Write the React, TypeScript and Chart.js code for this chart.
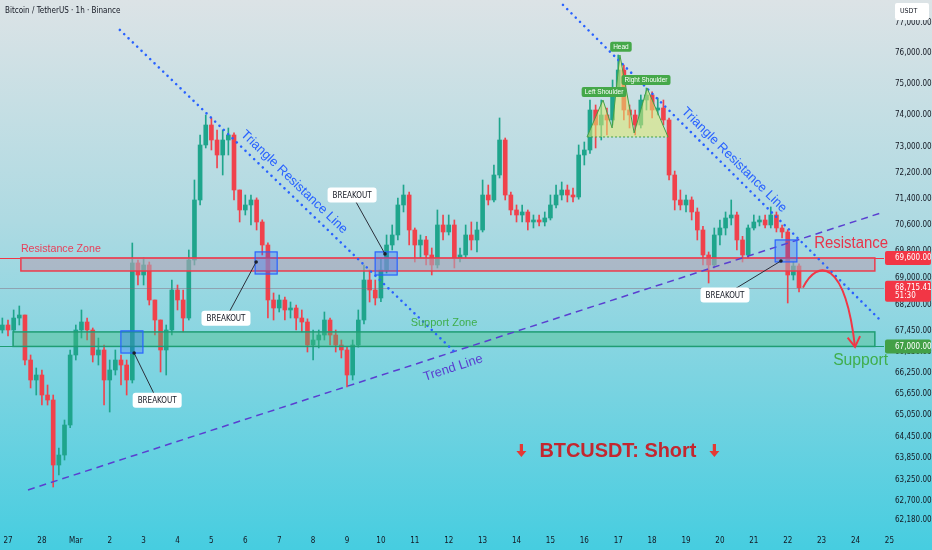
import React, { useEffect, useRef } from "react";
import { Chart, registerables } from "chart.js";

Chart.register(...registerables);

// ---------------- data (4h candles) ----------------
const firstOpen = 67476;
const closes = [
  67621, 67476, 67824, 67912, 66610, 66040, 66182, 65615, 65474, 63669,
  63943, 64774, 66754, 67476, 67708, 67476, 66754, 66898, 66040, 66325,
  66610, 66467, 66040, 69449, 69091, 69389, 68352, 67766, 66898, 67476,
  68646, 68352, 67824, 69538, 71356, 73064, 73695, 73221, 72750, 73221,
  73379, 71663, 71050, 71203, 71356, 70684, 69988, 68352, 68117, 68352,
  68059, 68117, 67824, 67708, 67042, 67186, 67330, 67766, 67330, 67042,
  66898, 66182, 67042, 67766, 68942, 68646, 68411, 69240, 69988, 70290,
  71203, 71509, 70441, 69988, 70139, 69688, 69389, 70593, 70381, 70593,
  69598, 69688, 70290, 70139, 70441, 71509, 71356, 72127, 73221, 71509,
  71050, 70897, 70989, 70684, 70745, 70684, 70806, 71203, 71509, 71663,
  71509, 71448, 72750, 72907, 74172, 73695, 74013, 73854, 74812, 75459,
  74172, 74013, 73695, 74491, 74652, 74172, 74236, 73854, 72127, 71356,
  71203, 71356, 70989, 70441, 69688, 69389, 70290, 70502, 70806, 70897,
  70139, 69688, 70502, 70684, 70745, 70593, 70897, 70502, 70381, 69091,
  69359, 68715.41,
];
const highs = [
  67824, 67766, 68059, 68176, 67912, 66754, 66382, 66325, 65898, 65615,
  64136, 64913, 66898, 67621, 68059, 67824, 67534, 67243, 67042, 66610,
  66898, 66754, 66610, 70048, 69538, 69598, 69478, 68352, 67766, 67621,
  68942, 68794, 68646, 69838, 71972, 73379, 74013, 73918, 73537, 73537,
  73600, 73450, 71663, 71509, 71509, 71420, 70750, 70050, 68558, 68499,
  68440, 68293, 68205, 68059, 67800, 67476, 67476, 68000, 67824, 67476,
  67186, 67000, 67186, 68059, 69389, 69240, 68942, 69598, 70290, 70593,
  71417, 71817, 71600, 70502, 70290, 70250, 69898, 71050, 70897, 70897,
  70745, 69898, 70593, 70684, 70684, 71972, 71817, 72438, 73918, 73284,
  71600, 71203, 71203, 71050, 70897, 70897, 70989, 71509, 71817, 71910,
  71817, 71725, 73064, 73158, 74491, 74332, 74491, 74236, 75135, 75947,
  75622, 74332, 74172, 74652, 74876, 74750, 74555, 74491, 73918, 72250,
  71663, 71509, 71450, 71111, 70550, 69778, 70502, 70745, 70989, 71356,
  70989, 70250, 70593, 70897, 70867, 70897, 71142, 70989, 70593, 70450,
  69478, 69420,
];
const lows = [
  67388, 67301, 67418, 67621, 66467, 65814, 65615, 65333, 65333, 63069,
  63395, 63806, 64700, 66610, 67243, 67186, 66553, 66467, 65333, 65137,
  66182, 65898, 65615, 65955, 68794, 68794, 68205, 67330, 66268, 66182,
  67330, 68059, 67418, 67766, 69389, 71203, 72970, 72907, 72344, 72127,
  72750, 71356, 70684, 70897, 70593, 70441, 69688, 67824, 67766, 68000,
  67766, 67824, 67476, 67418, 66840, 66610, 66956, 67186, 67042, 66840,
  66668, 65841, 66040, 66980, 67650, 68293, 68205, 68300, 69150, 69838,
  70139, 70989, 69988, 69478, 69598, 69389, 69091, 69300, 70139, 70290,
  69300, 69478, 69598, 69838, 69778, 70381, 71203, 71295, 72034, 71356,
  70897, 70684, 70684, 70441, 70502, 70563, 70563, 70745, 71111, 71356,
  71295, 71295, 71380, 72438, 72800, 72970, 73221, 73379, 73695, 74652,
  73854, 73600, 73379, 73600, 74172, 73918, 74013, 73695, 71972, 71050,
  71050, 70989, 70745, 70139, 69389, 68853, 69300, 69988, 70290, 70593,
  69838, 69478, 69598, 70441, 70563, 70502, 70502, 70381, 70200, 68264,
  68942, 68587,
];
// time in days from 27 Feb 00:00; one candle every 4 hours
const firstCandleDay = -1 / 6;
const candleStepDays = 1 / 6;

const dayLabels = [
  "27", "28", "Mar", "2", "3", "4", "5", "6", "7", "8", "9", "10", "11", "12",
  "13", "14", "15", "16", "17", "18", "19", "20", "21", "22", "23", "24", "25",
];
const priceTicks = [
  77000, 76000, 75000, 74000, 73000, 72200, 71400, 70600, 69800, 69000, 68200,
  67450, 66850, 66250, 65650, 65050, 64450, 63850, 63250, 62700, 62180,
];
const resistanceLevel = 69600;
const supportLevel = 67000;
const lastPrice = 68715.41;
const lastPriceTimer = "51:30";

// ---------------- drawings (in day / price coordinates) ----------------
const resistanceZone = { d0: 0.38, d1: 25.57, top: 69600, bottom: 69210 };
const supportZone = { d0: 0.15, d1: 25.57, top: 67420, bottom: 67000 };
const trendLine = [[0.59, 62990], [25.84, 70990]];
const triangleLine1 = [[3.3, 76770], [13.24, 66780]];
const triangleLine2 = [[16.37, 77600], [25.72, 67770]];
const breakouts = [
  { box: [3.33, 3.98, 67450, 66810], pt: [3.72, 66810], label: [4.4, 65470] },
  { box: [7.29, 7.94, 69780, 69120], pt: [7.32, 69480], label: [6.43, 67820] },
  { box: [10.83, 11.48, 69780, 69090], pt: [11.12, 69720], label: [10.15, 71510] },
  { box: [22.63, 23.27, 70140, 69480], pt: [22.8, 69510], label: [21.15, 68500] },
];
const hsPoints = [
  [17.08, 73316], [17.55, 74491], [17.82, 73600], [18.05, 75947],
  [18.47, 73442], [18.85, 74876], [19.47, 73316],
];
const hsLabels: [string, number, number][] = [
  ["Left Shoulder", 17.58, 74748],
  ["Head", 18.08, 76214],
  ["Right Shoulder", 18.82, 75135],
];
const projection = [[23.45, 68715], [23.89, 69598], [24.69, 69538], [24.985, 66985]];

const UP = "#1fa58c";
const DOWN = "#f0424c";
const AX_FONT = "'Liberation Sans Narrow','DejaVu Sans Condensed','Liberation Sans',sans-serif";
const TX_FONT = "'Liberation Sans','DejaVu Sans',sans-serif";

const fmt = (v: number) =>
  v.toLocaleString("en-US", { minimumFractionDigits: 2, maximumFractionDigits: 2 });

function rrect(ctx: CanvasRenderingContext2D, x: number, y: number, w: number, h: number, r: number) {
  ctx.beginPath();
  if ((ctx as any).roundRect) (ctx as any).roundRect(x, y, w, h, r);
  else ctx.rect(x, y, w, h);
}

const decor = {
  id: "decor",
  beforeDraw(chart: any) {
    const { ctx, width, height } = chart;
    const g = ctx.createLinearGradient(0, 0, 0, height);
    g.addColorStop(0, "#dce3e6");
    g.addColorStop(0.4, "#aedae2");
    g.addColorStop(1, "#46cde0");
    ctx.save();
    ctx.fillStyle = g;
    ctx.fillRect(0, 0, width, height);
    ctx.restore();
  },
  afterDatasetsDraw(chart: any) {
    const { ctx, chartArea: ca } = chart;
    const xs = chart.scales.x;
    const ys = chart.scales.y;
    const X = (d: number) => xs.getPixelForValue(d);
    const Y = (p: number) => ys.getPixelForValue(p);
    ctx.save();

    const hline = (p: number, color: string, w: number) => {
      const y = Math.round(Y(p)) + 0.5;
      ctx.beginPath();
      ctx.strokeStyle = color;
      ctx.lineWidth = w;
      ctx.moveTo(ca.left, y);
      ctx.lineTo(ca.right, y);
      ctx.stroke();
    };
    hline(lastPrice, "rgba(130,100,120,0.45)", 1);
    hline(resistanceLevel, "#f23645", 1);
    hline(supportLevel, "#1f9d73", 1);

    const zone = (z: any, fill: string, stroke: string) => {
      const x0 = X(z.d0), x1 = X(z.d1), y0 = Y(z.top), y1 = Y(z.bottom);
      ctx.fillStyle = fill;
      ctx.fillRect(x0, y0, x1 - x0, y1 - y0);
      ctx.strokeStyle = stroke;
      ctx.lineWidth = 1.5;
      ctx.strokeRect(x0, y0, x1 - x0, y1 - y0);
    };
    zone(resistanceZone, "rgba(178,165,182,0.62)", "#ee3a4c");
    zone(supportZone, "rgba(70,190,125,0.38)", "#1f9d73");

    const seg = (l: number[][], color: string, w: number, dash: number[], cap: CanvasLineCap) => {
      ctx.beginPath();
      ctx.setLineDash(dash);
      ctx.lineCap = cap;
      ctx.strokeStyle = color;
      ctx.lineWidth = w;
      ctx.moveTo(X(l[0][0]), Y(l[0][1]));
      ctx.lineTo(X(l[1][0]), Y(l[1][1]));
      ctx.stroke();
      ctx.setLineDash([]);
      ctx.lineCap = "butt";
    };
    seg(trendLine, "#5a3fd0", 1.5, [7, 5], "butt");
    seg(triangleLine1, "#2962ff", 2.6, [0.01, 6], "round");
    seg(triangleLine2, "#2962ff", 2.6, [0.01, 6], "round");

    const angle = (l: number[][]) =>
      Math.atan2(Y(l[1][1]) - Y(l[0][1]), X(l[1][0]) - X(l[0][0]));
    const rotText = (t: string, d: number, p: number, ang: number, font: string, color: string, maxW?: number) => {
      ctx.save();
      ctx.translate(X(d), Y(p));
      ctx.rotate(ang);
      ctx.font = font;
      ctx.fillStyle = color;
      ctx.textAlign = "center";
      ctx.textBaseline = "middle";
      if (maxW) ctx.fillText(t, 0, 0, maxW);
      else ctx.fillText(t, 0, 0);
      ctx.restore();
    };

    // head & shoulders
    const pts = hsPoints.map(([d, p]) => [X(d), Y(p)]);
    ctx.beginPath();
    pts.forEach(([x, y], i) => (i ? ctx.lineTo(x, y) : ctx.moveTo(x, y)));
    ctx.closePath();
    ctx.fillStyle = "rgba(228,234,112,0.55)";
    ctx.fill();
    ctx.beginPath();
    pts.forEach(([x, y], i) => (i ? ctx.lineTo(x, y) : ctx.moveTo(x, y)));
    ctx.strokeStyle = "#43a047";
    ctx.lineWidth = 1;
    ctx.stroke();
    ctx.setLineDash([2, 2]);
    ctx.beginPath();
    ctx.moveTo(pts[0][0], pts[0][1]);
    ctx.lineTo(pts[pts.length - 1][0], pts[pts.length - 1][1]);
    ctx.stroke();
    ctx.setLineDash([]);
    ctx.font = `6.5px ${TX_FONT}`;
    hsLabels.forEach(([t, d, p]) => {
      const w = ctx.measureText(t).width + 6;
      const cx = X(d), cy = Y(p);
      ctx.fillStyle = "#45a849";
      rrect(ctx, cx - w / 2, cy - 5, w, 10, 2);
      ctx.fill();
      ctx.fillStyle = "#ffffff";
      ctx.textAlign = "center";
      ctx.textBaseline = "middle";
      ctx.fillText(t, cx, cy + 0.5);
    });

    // breakouts
    breakouts.forEach((b) => {
      const x0 = X(b.box[0]), x1 = X(b.box[1]), y0 = Y(b.box[2]), y1 = Y(b.box[3]);
      ctx.fillStyle = "rgba(41,98,255,0.28)";
      ctx.fillRect(x0, y0, x1 - x0, y1 - y0);
      ctx.strokeStyle = "#2962ff";
      ctx.lineWidth = 1.2;
      ctx.strokeRect(x0, y0, x1 - x0, y1 - y0);
      const px = X(b.pt[0]), py = Y(b.pt[1]);
      const lx = X(b.label[0]), ly = Y(b.label[1]);
      ctx.beginPath();
      ctx.strokeStyle = "#2b2f3a";
      ctx.lineWidth = 1;
      ctx.moveTo(px, py);
      ctx.lineTo(lx, ly);
      ctx.stroke();
      ctx.beginPath();
      ctx.fillStyle = "#1b1f2a";
      ctx.arc(px, py, 1.8, 0, Math.PI * 2);
      ctx.fill();
      ctx.font = `8px ${AX_FONT}`;
      const w = ctx.measureText("BREAKOUT").width + 10;
      ctx.fillStyle = "#ffffff";
      rrect(ctx, lx - w / 2, ly - 7.5, w, 15, 3);
      ctx.fill();
      ctx.fillStyle = "#131722";
      ctx.textAlign = "center";
      ctx.textBaseline = "middle";
      ctx.fillText("BREAKOUT", lx, ly + 0.5);
    });

    // texts
    ctx.font = `11px ${TX_FONT}`;
    ctx.fillStyle = "#e8405a";
    ctx.textAlign = "left";
    ctx.textBaseline = "middle";
    ctx.fillText("Resistance Zone", X(0.38), Y(69868), 80);
    ctx.fillStyle = "#3fae4c";
    ctx.textAlign = "center";
    ctx.fillText("Support Zone", X(12.86), Y(67679), 67);

    rotText("Trend Line", 13.13, 66382, angle(trendLine), `13px ${TX_FONT}`, "#5a3fd0", 62);
    rotText("Triangle Resistance Line", 8.44, 71910, angle(triangleLine1), `13px ${TX_FONT}`, "#2962ff", 152);
    rotText("Triangle Resistance Line", 21.42, 72594, angle(triangleLine2), `13px ${TX_FONT}`, "#2962ff", 152);

    ctx.font = `16px ${TX_FONT}`;
    ctx.textAlign = "left";
    ctx.textBaseline = "middle";
    ctx.fillStyle = "#e8344a";
    ctx.fillText("Resistance", X(23.78), Y(70018), 74);
    ctx.fillStyle = "#3fae4c";
    ctx.fillText("Support", X(24.34), Y(66582), 55);

    // projected path
    const q = projection.map(([d, p]) => [X(d), Y(p)]);
    ctx.beginPath();
    ctx.strokeStyle = "#f23645";
    ctx.lineWidth = 2;
    ctx.moveTo(q[0][0], q[0][1]);
    ctx.bezierCurveTo(q[1][0], q[1][1], q[2][0], q[2][1], q[3][0], q[3][1]);
    ctx.stroke();
    const ta = Math.atan2(q[3][1] - q[2][1], q[3][0] - q[2][0]);
    ctx.beginPath();
    ctx.moveTo(q[3][0] - 12 * Math.cos(ta - 0.55), q[3][1] - 12 * Math.sin(ta - 0.55));
    ctx.lineTo(q[3][0], q[3][1]);
    ctx.lineTo(q[3][0] - 12 * Math.cos(ta + 0.55), q[3][1] - 12 * Math.sin(ta + 0.55));
    ctx.stroke();

    // title text with arrows
    const tx = X(17.99), ty = Y(64053);
    ctx.font = `bold 21px ${TX_FONT}`;
    ctx.fillStyle = "#c3272f";
    ctx.textAlign = "center";
    ctx.textBaseline = "middle";
    const tw = Math.min(ctx.measureText("BTCUSDT: Short").width, 157);
    ctx.fillText("BTCUSDT: Short", tx, ty, 157);
    const arrow = (cx: number, cy: number) => {
      ctx.beginPath();
      ctx.moveTo(cx - 1.6, cy - 7);
      ctx.lineTo(cx + 1.6, cy - 7);
      ctx.lineTo(cx + 1.6, cy);
      ctx.lineTo(cx + 5, cy);
      ctx.lineTo(cx, cy + 6);
      ctx.lineTo(cx - 5, cy);
      ctx.lineTo(cx - 1.6, cy);
      ctx.closePath();
      ctx.fillStyle = "#e53935";
      ctx.fill();
    };
    arrow(tx - tw / 2 - 18, ty);
    arrow(tx + tw / 2 + 18, ty);

    ctx.restore();
  },
  afterDraw(chart: any) {
    const { ctx, chartArea: ca, width } = chart;
    const xs = chart.scales.x;
    const ys = chart.scales.y;
    ctx.save();
    // x labels
    ctx.font = `8px ${AX_FONT}`;
    ctx.fillStyle = "#131722";
    ctx.textAlign = "center";
    ctx.textBaseline = "middle";
    dayLabels.forEach((t, d) => ctx.fillText(t, xs.getPixelForValue(d), 541));

    // axis price labels
    const tag = (p: number, bg: string, lines: string[]) => {
      const y = ys.getPixelForValue(p);
      const h = lines.length > 1 ? 21 : 14;
      ctx.fillStyle = bg;
      rrect(ctx, ca.right + 1, y - 7, width - ca.right - 2, h, 2);
      ctx.fill();
      ctx.fillStyle = "#ffffff";
      ctx.textAlign = "left";
      ctx.textBaseline = "middle";
      ctx.font = `8px ${AX_FONT}`;
      lines.forEach((l, i) => ctx.fillText(l, ca.right + 11, y + i * 8.5));
    };
    tag(resistanceLevel, "#f23645", [fmt(resistanceLevel)]);
    tag(lastPrice, "#f23645", [fmt(lastPrice), lastPriceTimer]);
    tag(supportLevel, "#43a047", [fmt(supportLevel)]);

    // currency box
    ctx.fillStyle = "#ffffff";
    rrect(ctx, 895, 3, 34, 17, 2);
    ctx.fill();
    ctx.fillStyle = "#131722";
    ctx.font = `7px ${AX_FONT}`;
    ctx.textAlign = "left";
    ctx.fillText("USDT", 900, 11.5);

    // header
    ctx.font = `8px ${AX_FONT}`;
    ctx.fillText("Bitcoin / TetherUS · 1h · Binance", 5, 10.5);
    ctx.restore();
  },
};

export default function App() {
  const ref = useRef<HTMLCanvasElement>(null);
  useEffect(() => {
    const opens = closes.map((_, i) => (i === 0 ? firstOpen : closes[i - 1]));
    const times = closes.map((_, i) => firstCandleDay + i * candleStepDays);
    const colors = closes.map((c, i) => (c >= opens[i] ? UP : DOWN));
    const chart = new Chart(ref.current as HTMLCanvasElement, {
      type: "bar",
      data: {
        datasets: [
          {
            data: times.map((x, i) => ({ x, y: [lows[i], highs[i]] })) as any,
            backgroundColor: colors,
            barThickness: 1,
            grouped: false,
            borderWidth: 0,
          } as any,
          {
            data: times.map((x, i) => ({ x, y: [opens[i], closes[i]] })) as any,
            backgroundColor: colors,
            barThickness: 4,
            grouped: false,
            minBarLength: 1,
            borderWidth: 0,
          } as any,
        ],
      },
      options: {
        responsive: false,
        animation: false,
        events: [],
        layout: { padding: { left: 0, top: 0, right: 0, bottom: 20 } },
        plugins: { legend: { display: false }, tooltip: { enabled: false } },
        scales: {
          x: { type: "linear", min: -0.236, max: 25.84, offset: false, display: false },
          y: {
            type: "logarithmic",
            position: "right",
            min: 61914,
            max: 77765,
            bounds: "data",
            grid: { display: false, drawTicks: false },
            border: { display: false },
            afterBuildTicks: (s: any) => {
              s.ticks = priceTicks.map((v) => ({ value: v }));
            },
            afterFit: (s: any) => {
              s.width = 48;
              s.paddingTop = 0;
              s.paddingBottom = 0;
            },
            ticks: {
              autoSkip: false,
              padding: 11,
              color: "#131722",
              font: { size: 8, family: AX_FONT },
              callback: (v: any) => fmt(Number(v)),
            },
          } as any,
        },
      },
      plugins: [decor],
    });
    return () => chart.destroy();
  }, []);
  return (
    <div style={{ position: "fixed", left: 0, top: 0, width: 932, height: 550 }}>
      <canvas ref={ref} width={932} height={550} />
    </div>
  );
}
